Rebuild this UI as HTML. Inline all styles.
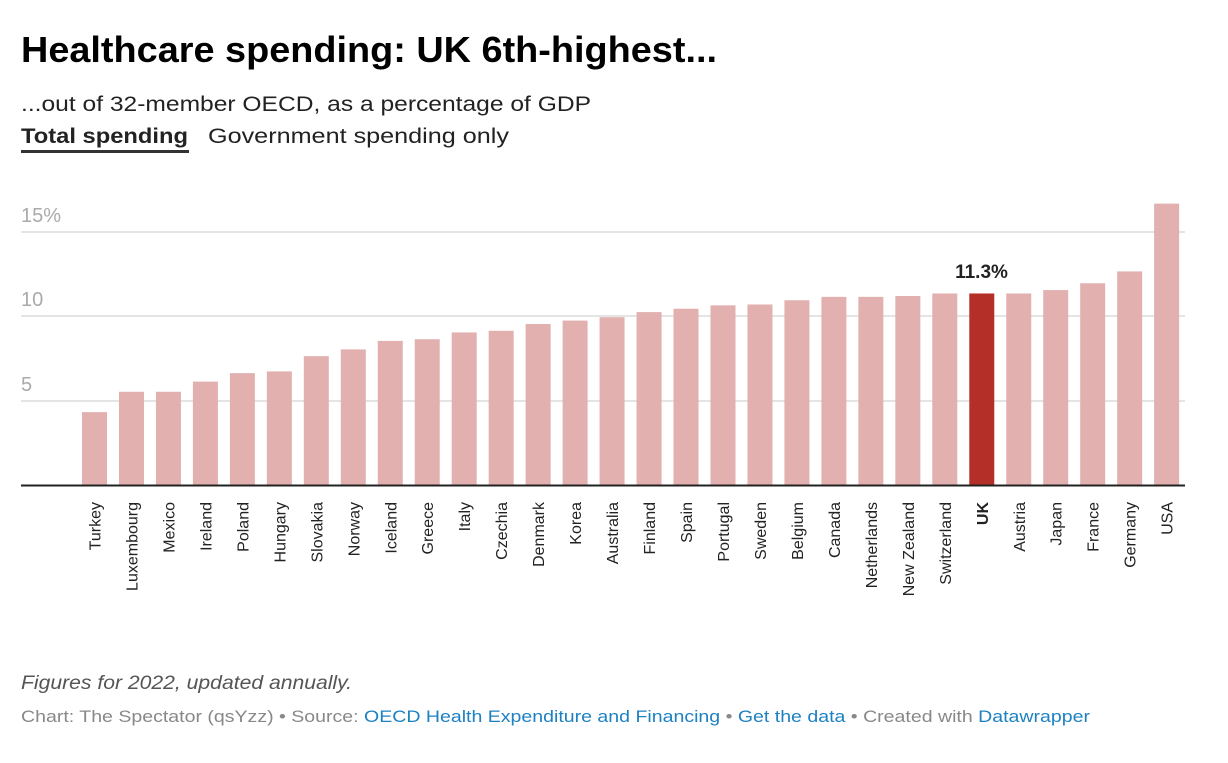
<!DOCTYPE html>
<html><head><meta charset="utf-8"><style>
body{margin:0;background:#fff;width:1228px;height:758px;overflow:hidden;font-family:"Liberation Sans",Arial,sans-serif}
</style></head><body>
<svg width="1228" height="758" xmlns="http://www.w3.org/2000/svg" font-family="Liberation Sans, Arial, sans-serif">
<text x="21" y="62" font-size="36" font-weight="bold" fill="#000" textLength="696" lengthAdjust="spacingAndGlyphs">Healthcare spending: UK 6th-highest...</text>
<text x="21" y="111" font-size="21" fill="#222" textLength="570" lengthAdjust="spacingAndGlyphs">...out of 32-member OECD, as a percentage of GDP</text>
<text x="21" y="143" font-size="21" font-weight="bold" fill="#222" textLength="167" lengthAdjust="spacingAndGlyphs">Total spending</text>
<rect x="21" y="150" width="168" height="3" fill="#333"/>
<text x="208" y="143" font-size="21" fill="#222" textLength="301" lengthAdjust="spacingAndGlyphs">Government spending only</text>
<g stroke="#e4e4e4" stroke-width="2">
<line x1="21" x2="1185" y1="232" y2="232"/>
<line x1="21" x2="1185" y1="316" y2="316"/>
<line x1="21" x2="1185" y1="401" y2="401"/>
</g>
<g font-size="20" fill="#aaa">
<text x="21" y="222">15%</text>
<text x="21" y="306">10</text>
<text x="21" y="391">5</text>
</g>
<g id="bars"></g>
<line x1="21" x2="1185" y1="485.5" y2="485.5" stroke="#222" stroke-width="2"/>
<text x="981.5" y="278" font-size="19" font-weight="bold" text-anchor="middle" fill="#222">11.3%</text>
<g id="labels" font-size="16" fill="#222"></g>
<text x="21" y="689" font-size="19" font-style="italic" fill="#555" textLength="331" lengthAdjust="spacingAndGlyphs">Figures for 2022, updated annually.</text>
<text x="21" y="722" font-size="17" fill="#888" textLength="1069" lengthAdjust="spacingAndGlyphs">Chart: The Spectator (qsYzz) • Source: <tspan fill="#1d81c2">OECD Health Expenditure and Financing</tspan> • <tspan fill="#1d81c2">Get the data</tspan> • Created with <tspan fill="#1d81c2">Datawrapper</tspan></text>
<script>
var d=[["Turkey",4.3],["Luxembourg",5.5],["Mexico",5.5],["Ireland",6.1],["Poland",6.6],["Hungary",6.7],["Slovakia",7.6],["Norway",8.0],["Iceland",8.5],["Greece",8.6],["Italy",9.0],["Czechia",9.1],["Denmark",9.5],["Korea",9.7],["Australia",9.9],["Finland",10.2],["Spain",10.4],["Portugal",10.6],["Sweden",10.65],["Belgium",10.9],["Canada",11.1],["Netherlands",11.1],["New Zealand",11.15],["Switzerland",11.3],["UK",11.3],["Austria",11.3],["Japan",11.5],["France",11.9],["Germany",12.6],["USA",16.6]];
var ns="http://www.w3.org/2000/svg",b=document.getElementById("bars"),l=document.getElementById("labels");
d.forEach(function(e,i){var x=82+i*36.97,h=e[1]*16.95;var r=document.createElementNS(ns,"rect");
r.setAttribute("x",x);r.setAttribute("y",485-h);r.setAttribute("width",25);r.setAttribute("height",h);
r.setAttribute("fill",e[0]=="UK"?"#b42f28":"#e1b0af");b.appendChild(r);
var t=document.createElementNS(ns,"text");var cx=x+12.5+6;t.setAttribute("transform","translate("+cx+",502) rotate(-90)");
t.setAttribute("text-anchor","end");if(e[0]=="UK")t.setAttribute("font-weight","bold");t.textContent=e[0];l.appendChild(t);});
</script>
</svg>
</body></html>
